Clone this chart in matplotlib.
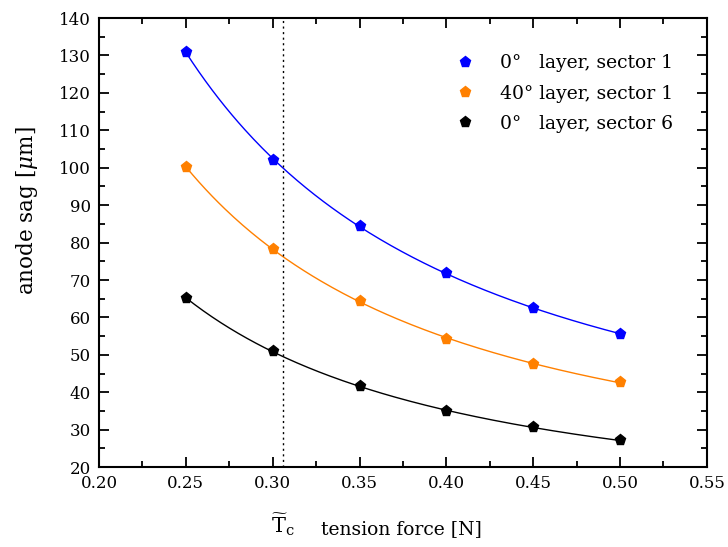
import numpy as np
import matplotlib

matplotlib.use("Agg")
import matplotlib.pyplot as plt
from matplotlib.ticker import MultipleLocator, FormatStrFormatter

# ── data ────────────────────────────────────────────────────────────────────
tension = [0.25, 0.30, 0.35, 0.40, 0.45, 0.50]
sag_0deg_s1 = [131.0, 102.0, 84.5, 72.0, 62.5, 55.5]
sag_40deg_s1 = [100.2, 78.3, 64.5, 54.2, 47.5, 42.8]
sag_0deg_s6 = [65.2, 51.0, 41.6, 35.0, 30.6, 27.2]
labels = ["0°\u2007 layer, sector 1", "40° layer, sector 1", "0°\u2007 layer, sector 6"]
colors = ["#0000ff", "#ff8000", "#000000"]
t_crit = 0.306

plt.rcParams["font.family"] = ["DejaVu Serif"]
plt.rcParams["mathtext.fontset"] = "dejavuserif"

fig = plt.figure(figsize=(7.28, 5.47), dpi=100)
ax = fig.add_axes([0.136, 0.146, 0.835, 0.821])

x = np.array(tension)
xs = np.linspace(x.min(), x.max(), 200)
for ys, c, lab in zip([sag_0deg_s1, sag_40deg_s1, sag_0deg_s6], colors, labels):
    # smooth fit in 1/x
    coef = np.polyfit(1 / x, ys, 2)
    ax.plot(xs, np.polyval(coef, 1 / xs), color=c, lw=1)
    ax.plot(x, ys, "p", color=c, ms=8, label=lab, ls="none")

ax.axvline(t_crit, color="black", ls=(0, (1.5, 2.5)), lw=1)

ax.set_xlim(0.20, 0.55)
ax.set_ylim(20, 140)
ax.xaxis.set_major_locator(MultipleLocator(0.05))
ax.xaxis.set_minor_locator(MultipleLocator(0.025))
ax.yaxis.set_major_locator(MultipleLocator(10))
ax.yaxis.set_minor_locator(MultipleLocator(5))
ax.xaxis.set_major_formatter(FormatStrFormatter("%.2f"))

for s in ax.spines.values():
    s.set_linewidth(1.5)
ax.tick_params(which="both", direction="in", top=True, right=True, labelsize=12, width=1.3)
ax.tick_params(which="major", length=7, pad=6)
ax.tick_params(which="minor", length=4)

ax.set_ylabel(r"anode sag [$\mu$m]", fontsize=15.5)
ax.yaxis.set_label_coords(-0.097, 0.572)
ax.set_xlabel("tension force [N]", fontsize=13.5)
ax.xaxis.set_label_coords(0.498, -0.118)
ax.text(t_crit, -0.098, r"$\widetilde{\mathrm{T}}_{\mathrm{c}}$", transform=ax.get_xaxis_transform(),
        ha="center", va="top", fontsize=15)

ax.legend(loc="upper right", bbox_to_anchor=(0.957, 0.936), frameon=False, fontsize=13.5,
          handletextpad=1.1, handlelength=1.5, borderaxespad=0.0, labelspacing=0.66)

fig.savefig("out.png", dpi=100)
